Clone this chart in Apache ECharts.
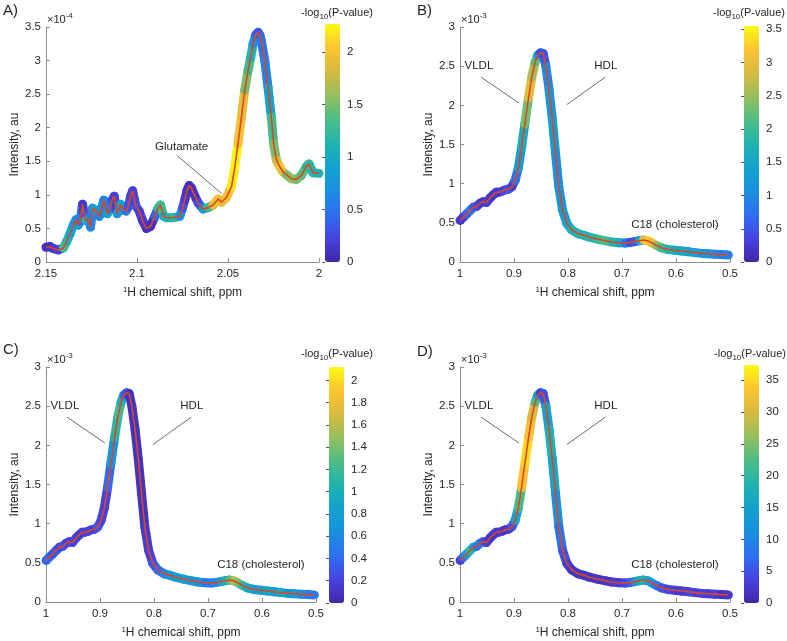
<!DOCTYPE html>
<html>
<head>
<meta charset="utf-8">
<script src="https://cdn.jsdelivr.net/npm/echarts@6/dist/echarts.min.js"></script>
<style>
  html, body { margin: 0; padding: 0; background: #fff; }
  #main { width: 787px; height: 641px; }
</style>
</head>
<body>
<div id="main"></div>
<script>
// panel A: 2.15 - 2.00 ppm, intensity in units of 1e-4
const ppmA = [2.1500, 2.1478, 2.1460, 2.1432, 2.1405, 2.1387, 2.1368, 2.1350, 2.1335, 2.1323,
  2.1313, 2.1299, 2.1291, 2.1281, 2.1268, 2.1255, 2.1244, 2.1233, 2.1222, 2.1207,
  2.1195, 2.1182, 2.1163, 2.1149, 2.1137, 2.1125, 2.1109, 2.1090, 2.1072, 2.1060,
  2.1048, 2.1035, 2.1024, 2.1006, 2.0988, 2.0970, 2.0948, 2.0926, 2.0902, 2.0885,
  2.0871, 2.0853, 2.0838, 2.0801, 2.0765, 2.0750, 2.0737, 2.0725, 2.0713, 2.0700,
  2.0692, 2.0664, 2.0637, 2.0609, 2.0582, 2.0565, 2.0554, 2.0536, 2.0509, 2.0481,
  2.0463, 2.0445, 2.0426, 2.0408, 2.0390, 2.0375, 2.0362, 2.0348, 2.0335, 2.0325,
  2.0317, 2.0298, 2.0280, 2.0262, 2.0249, 2.0234, 2.0216, 2.0198, 2.0179, 2.0152,
  2.0125, 2.0097, 2.0070, 2.0055, 2.0033, 2.0000];
const intensityA = [0.22, 0.23, 0.20, 0.18, 0.21, 0.30, 0.42, 0.55, 0.63, 0.55,
  0.60, 0.86, 0.72, 0.62, 0.63, 0.52, 0.80, 0.78, 0.75, 0.68,
  0.80, 0.92, 0.72, 0.80, 0.92, 0.98, 0.72, 0.86, 0.77, 0.76,
  0.82, 0.98, 1.06, 0.83, 0.76, 0.62, 0.50, 0.53, 0.68, 0.80,
  0.85, 0.68, 0.66, 0.66, 0.68, 0.80, 0.93, 1.07, 1.14, 1.10,
  1.04, 0.88, 0.79, 0.81, 0.85, 0.90, 0.94, 0.89, 0.96, 1.12,
  1.40, 1.76, 2.16, 2.56, 2.85, 3.05, 3.25, 3.38, 3.42, 3.38,
  3.30, 3.00, 2.60, 2.16, 1.76, 1.52, 1.42, 1.34, 1.30, 1.24,
  1.23, 1.29, 1.42, 1.46, 1.33, 1.32];
const logpA = [0.1, 0.1, 0.15, 0.2, 1.3, 1.1, 0.9, 0.8, 0.7, 0.9,
  0.5, 0.15, 0.3, 1.2, 1.0, 0.6, 0.7, 1.0, 0.8, 0.6,
  0.7, 0.6, 0.9, 0.5, 0.3, 0.2, 0.8, 0.9, 0.7, 0.5,
  0.3, 0.2, 0.2, 0.3, 0.2, 0.15, 0.1, 0.1, 0.4, 1.2,
  1.3, 1.0, 1.1, 1.2, 0.7, 0.3, 0.15, 0.1, 0.1, 0.1,
  0.1, 0.3, 0.9, 1.3, 1.9, 2.0, 2.0, 1.9, 2.0, 2.2,
  2.25, 2.0, 1.9, 1.5, 1.3, 1.1, 0.7, 0.4, 0.3, 0.4,
  0.5, 0.6, 0.9, 1.3, 1.5, 1.8, 2.0, 1.9, 1.5, 1.6,
  1.5, 1.4, 1.2, 1.2, 1.1, 1.1];

// panels B, C, D: same spectrum 1.0 - 0.5 ppm, intensity in units of 1e-3
const ppmL = [1.000, 0.994, 0.988, 0.981, 0.975, 0.969, 0.963, 0.957, 0.951, 0.944,
  0.938, 0.933, 0.929, 0.923, 0.917, 0.910, 0.904, 0.898, 0.892, 0.886,
  0.880, 0.873, 0.867, 0.861, 0.856, 0.851, 0.846, 0.841, 0.835, 0.829,
  0.823, 0.817, 0.810, 0.802, 0.793, 0.781, 0.770, 0.762, 0.744, 0.730,
  0.719, 0.705, 0.694, 0.685, 0.676, 0.668, 0.660, 0.652, 0.645, 0.636,
  0.627, 0.615, 0.602, 0.590, 0.577, 0.565, 0.552, 0.540, 0.528, 0.515, 0.503];
const intensityL = [0.53, 0.57, 0.61, 0.66, 0.70, 0.71, 0.75, 0.77, 0.76, 0.82,
  0.86, 0.89, 0.89, 0.90, 0.92, 0.93, 0.96, 1.04, 1.20, 1.46,
  1.76, 2.10, 2.36, 2.55, 2.64, 2.67, 2.66, 2.50, 2.20, 1.82,
  1.38, 0.96, 0.66, 0.49, 0.41, 0.36, 0.34, 0.32, 0.29, 0.27,
  0.255, 0.245, 0.243, 0.25, 0.26, 0.272, 0.28, 0.27, 0.245, 0.21,
  0.18, 0.16, 0.15, 0.14, 0.13, 0.12, 0.11, 0.105, 0.10, 0.095, 0.09];
const logpB = [0.2, 0.3, 0.6, 0.8, 0.5, 0.4, 0.3, 0.2, 0.3, 0.2,
  0.2, 0.3, 0.2, 0.3, 0.4, 0.5, 0.3, 0.8, 1.3, 1.6,
  2.3, 2.9, 2.6, 2.2, 1.2, 0.4, 0.5, 1.0, 1.2, 1.3,
  1.1, 1.2, 1.3, 1.5, 1.7, 1.8, 1.7, 1.8, 2.0, 2.1,
  1.8, 1.5, 0.8, 0.4, 0.5, 1.5, 3.0, 3.2, 3.0, 2.4,
  2.0, 1.8, 1.6, 1.5, 1.4, 1.3, 1.2, 1.1, 1.0, 0.9, 0.8];
const logpC = [0.4, 0.4, 0.3, 0.3, 0.2, 0.3, 0.2, 0.2, 0.2, 0.2,
  0.15, 0.15, 0.2, 0.2, 0.2, 0.2, 0.3, 0.2, 0.2, 0.4,
  0.7, 1.1, 1.2, 1.0, 0.4, 0.3, 0.1, 0.1, 0.1, 0.1,
  0.1, 0.15, 0.2, 0.3, 0.4, 0.6, 0.7, 0.8, 0.8, 0.7,
  0.7, 0.5, 0.5, 0.6, 0.8, 1.0, 1.3, 1.6, 1.4, 1.1,
  0.9, 0.8, 0.8, 0.9, 0.8, 0.9, 0.7, 0.8, 0.6, 0.5, 0.5];
const logpD = [3, 8, 15, 20, 15, 8, 10, 5, 3, 2,
  2, 3, 2, 3, 2, 3, 5, 15, 22, 33,
  35, 33, 30, 22, 12, 3, 5, 15, 18, 16,
  12, 8, 5, 3, 2, 2, 2, 2, 2, 2,
  3, 3, 4, 6, 12, 17, 18, 15, 12, 8,
  5, 4, 3, 3, 4, 3, 4, 3, 3, 2, 2];

// annotations (data coordinates)
const noteTextA = ['Glutamate'];
const noteAtA = [[2.0755, 1.72]];
const noteLineA = [[[2.0782, 1.59], [2.0535, 1.02]]];
const noteTextL = ['VLDL', 'HDL', 'C18 (cholesterol)'];
const noteAtL = [[0.965, 2.50], [0.730, 2.50], [0.602, 0.47]];
const noteLineL = [[[0.961, 2.36], [0.891, 2.03]], [[0.731, 2.36], [0.802, 2.01]]];

// parula-like colour map, low -> high
const parula = ['#3e26a8', '#4743e0', '#2f6ff2', '#1a8fe0', '#11a3cd', '#20b3ae',
  '#4cbd85', '#95bf5e', '#d7ba40', '#fdc432', '#f9fb0e'];
const font = 'Liberation Sans, Arial, sans-serif';
const textColor = '#262626';
const axisColor = '#8c8c8c';
const traceColor = '#e0461e';
const supSub = {
  sup: { fontSize: 8, lineHeight: 8, verticalAlign: 'top', fontFamily: font, color: textColor },
  sub: { fontSize: 8, lineHeight: 8, verticalAlign: 'bottom', fontFamily: font, color: textColor }
};

const panels = [
  { tag: 'A)', x: ppmA, y: intensityA, p: logpA, pMax: 2.27, pStep: 0.5,
    xMin: 2, xMax: 2.15, xStep: 0.05, yMax: 3.5, exp: '-4',
    notes: noteTextA, noteAt: noteAtA, noteLine: noteLineA,
    grid: { left: 46, top: 27, width: 273, height: 235 },
    bar: { left: 325, top: 24, height: 238 }, cbTitle: [337, 5], tagPos: [3, 3] },
  { tag: 'B)', x: ppmL, y: intensityL, p: logpB, pMax: 3.55, pStep: 0.5,
    xMin: 0.5, xMax: 1, xStep: 0.1, yMax: 3, exp: '-3',
    notes: noteTextL, noteAt: noteAtL, noteLine: noteLineL,
    grid: { left: 460, top: 27, width: 270, height: 235 },
    bar: { left: 744, top: 26, height: 236 }, cbTitle: [749, 5], tagPos: [417, 3] },
  { tag: 'C)', x: ppmL, y: intensityL, p: logpC, pMax: 2.12, pStep: 0.2,
    xMin: 0.5, xMax: 1, xStep: 0.1, yMax: 3, exp: '-3',
    notes: noteTextL, noteAt: noteAtL, noteLine: noteLineL,
    grid: { left: 46, top: 367, width: 270, height: 236 },
    bar: { left: 329, top: 367, height: 236 }, cbTitle: [337, 346], tagPos: [3, 342] },
  { tag: 'D)', x: ppmL, y: intensityL, p: logpD, pMax: 37.4, pStep: 5,
    xMin: 0.5, xMax: 1, xStep: 0.1, yMax: 3, exp: '-3',
    notes: noteTextL, noteAt: noteAtL, noteLine: noteLineL,
    grid: { left: 460, top: 367, width: 270, height: 236 },
    bar: { left: 744, top: 365, height: 238 }, cbTitle: [750, 346], tagPos: [417, 344] }
];

function renderSegment(params, api) {
  const a = api.coord([api.value(0), api.value(1)]);
  const b = api.coord([api.value(3), api.value(4)]);
  return {
    type: 'line',
    shape: { x1: a[0], y1: a[1], x2: b[0], y2: b[1] },
    style: { stroke: api.visual('color'), lineWidth: 9, lineCap: 'round' }
  };
}

const option = {
  animation: false,
  backgroundColor: '#ffffff',
  textStyle: { fontFamily: font },
  title: [], grid: [], xAxis: [], yAxis: [], visualMap: [], series: []
};

panels.forEach(function (pn) {
  const g = option.grid.length;
  option.grid.push(pn.grid);
  option.xAxis.push({
    gridIndex: g, type: 'value', min: pn.xMin, max: pn.xMax, interval: pn.xStep, inverse: true,
    name: '{sup|1}H chemical shift, ppm', nameLocation: 'middle', nameGap: 24,
    nameTextStyle: { fontSize: 12, color: textColor, lineHeight: 14, rich: supSub },
    axisLine: { lineStyle: { color: axisColor } },
    axisTick: { inside: true, length: 4, lineStyle: { color: axisColor } },
    axisLabel: { color: textColor, fontSize: 11.5, margin: 6 },
    splitLine: { show: false }
  });
  option.yAxis.push({
    gridIndex: g, type: 'value', min: 0, max: pn.yMax, interval: 0.5,
    name: 'Intensity, au', nameLocation: 'middle', nameGap: 25,
    nameTextStyle: { fontSize: 12, color: textColor },
    axisLine: { show: true, lineStyle: { color: axisColor } },
    axisTick: { show: true, inside: true, length: 4, lineStyle: { color: axisColor } },
    axisLabel: { color: textColor, fontSize: 11.5, margin: 5 },
    splitLine: { show: false }
  });

  // colour bar axis
  const cg = option.grid.length;
  option.grid.push({ left: pn.bar.left, top: pn.bar.top, width: 15, height: pn.bar.height });
  option.xAxis.push({ gridIndex: cg, type: 'value', show: false, min: 0, max: 1 });
  option.yAxis.push({
    gridIndex: cg, type: 'value', position: 'right', min: 0, max: pn.pMax, interval: pn.pStep,
    axisLine: { show: false },
    axisTick: { show: true, inside: true, length: 3, lineStyle: { color: '#555' } },
    axisLabel: { color: textColor, fontSize: 11.5, margin: 7, showMaxLabel: false },
    splitLine: { show: false }
  });

  const seg = pn.x.map(function (x, i) {
    const j = Math.min(i + 1, pn.x.length - 1);
    return [x, pn.y[i], pn.p[i], pn.x[j], pn.y[j]];
  });
  const bandIndex = option.series.length;
  option.series.push({
    type: 'custom', xAxisIndex: g, yAxisIndex: g, silent: true, z: 2,
    dimensions: ['x', 'y', 'p', 'x2', 'y2'],
    encode: { x: [0, 3], y: [1, 4] },
    renderItem: renderSegment,
    data: seg
  });
  option.series.push({
    type: 'line', xAxisIndex: g, yAxisIndex: g, silent: true, z: 3,
    symbol: 'none', showSymbol: false,
    lineStyle: { color: traceColor, width: 1.6 },
    data: pn.x.map(function (x, i) { return [x, pn.y[i]]; }),
    markLine: {
      silent: true, symbol: ['none', 'none'], label: { show: false },
      lineStyle: { color: '#444', width: 0.8, type: 'solid' },
      data: pn.noteLine.map(function (l) { return [{ coord: l[0] }, { coord: l[1] }]; })
    },
    markPoint: {
      silent: true, symbol: 'circle', symbolSize: 1, itemStyle: { color: 'rgba(0,0,0,0)' },
      label: { show: true, position: 'inside', formatter: '{b}', color: textColor, fontSize: 11.5, fontFamily: font },
      data: pn.notes.map(function (t, i) { return { name: t, coord: pn.noteAt[i] }; })
    }
  });

  option.visualMap.push({
    type: 'continuous', seriesIndex: bandIndex, dimension: 2, min: 0, max: pn.pMax,
    inRange: { color: parula }, calculable: false, hoverLink: false,
    itemWidth: 15, itemHeight: pn.bar.height, left: pn.bar.left, top: pn.bar.top, padding: 0
  });

  option.title.push({
    text: pn.tag, left: pn.tagPos[0], top: pn.tagPos[1], padding: 0,
    textStyle: { fontSize: 15, fontWeight: 'normal', color: textColor, fontFamily: font }
  });
  option.title.push({
    text: '-log{sub|10}(P-value)', left: pn.cbTitle[0], top: pn.cbTitle[1], textAlign: 'center', padding: 0,
    textStyle: { fontSize: 11, fontWeight: 'normal', color: textColor, fontFamily: font, lineHeight: 16, rich: supSub }
  });
  option.title.push({
    text: '×10{sup|' + pn.exp + '}', left: pn.grid.left + 1, top: pn.grid.top - 15, padding: 0,
    textStyle: { fontSize: 11, fontWeight: 'normal', color: textColor, fontFamily: font, lineHeight: 16, rich: supSub }
  });
});

const chart = echarts.init(document.getElementById('main'));
chart.setOption(option);
</script>
</body>
</html>
